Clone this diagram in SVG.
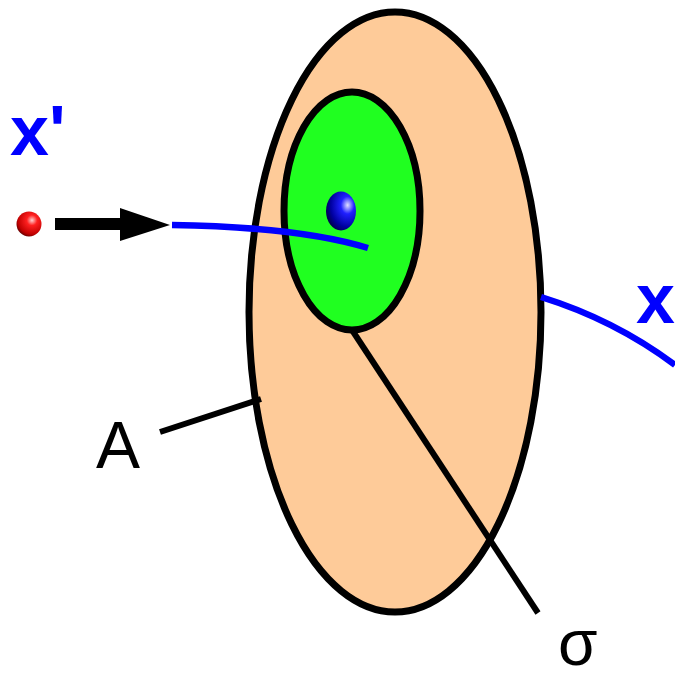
<svg xmlns="http://www.w3.org/2000/svg" width="675" height="680" viewBox="0 0 675 680">
<defs>
<style>
.lead{stroke:#000;stroke-width:6;fill:none}
.blue{stroke:#0000ff;stroke-width:6.5;fill:none}
.lbl{font-family:"Liberation Sans",Arial,sans-serif;font-size:66px;fill:#000}
.blbl{font-family:"Liberation Sans",Arial,sans-serif;font-size:70px;font-weight:bold;fill:#0000ff}
</style>
<radialGradient id="gRed" cx="0.62" cy="0.35" r="0.7">
<stop offset="0" stop-color="#ffd0d0"/>
<stop offset="0.3" stop-color="#ff2020"/>
<stop offset="0.8" stop-color="#c00000"/>
<stop offset="1" stop-color="#600000"/>
</radialGradient>
<radialGradient id="gBlue" cx="0.72" cy="0.35" r="0.75">
<stop offset="0" stop-color="#e0e0ff"/>
<stop offset="0.3" stop-color="#2020ff"/>
<stop offset="0.75" stop-color="#0000a0"/>
<stop offset="1" stop-color="#000050"/>
</radialGradient>
</defs>
<g id="regionA">
<ellipse cx="395" cy="312" rx="146" ry="300" fill="#fecb99" stroke="#000" stroke-width="7"/>
</g>
<g id="regionSigma">
<ellipse cx="352" cy="211" rx="68" ry="119" fill="#20ff20" stroke="#000" stroke-width="7"/>
</g>
<g id="connectors">
<path class="blue" d="M172,225 Q300,227 368,248"/>
<path class="blue" d="M541,297 Q615,320 675,365"/>
<line x1="55" y1="224" x2="122" y2="224" stroke="#000" stroke-width="12"/>
<polygon points="120,208 170,225 120,241" fill="#000"/>
<line class="lead" x1="160" y1="432" x2="261" y2="399"/>
<line class="lead" x1="352" y1="330" x2="538" y2="613"/>
</g>
<g id="pointRed">
<circle cx="29" cy="224" r="12.5" fill="url(#gRed)"/>
</g>
<g id="pointBlue">
<ellipse cx="341" cy="211" rx="15" ry="19.5" fill="url(#gBlue)"/>
</g>
<g id="labels">
<text class="blbl" x="10" y="155">x'</text>
<text class="blbl" x="636" y="323">x</text>
<text class="lbl" x="96" y="468">A</text>
<text class="lbl" x="558" y="665" style="font-size:64px">σ</text>
</g>
</svg>
